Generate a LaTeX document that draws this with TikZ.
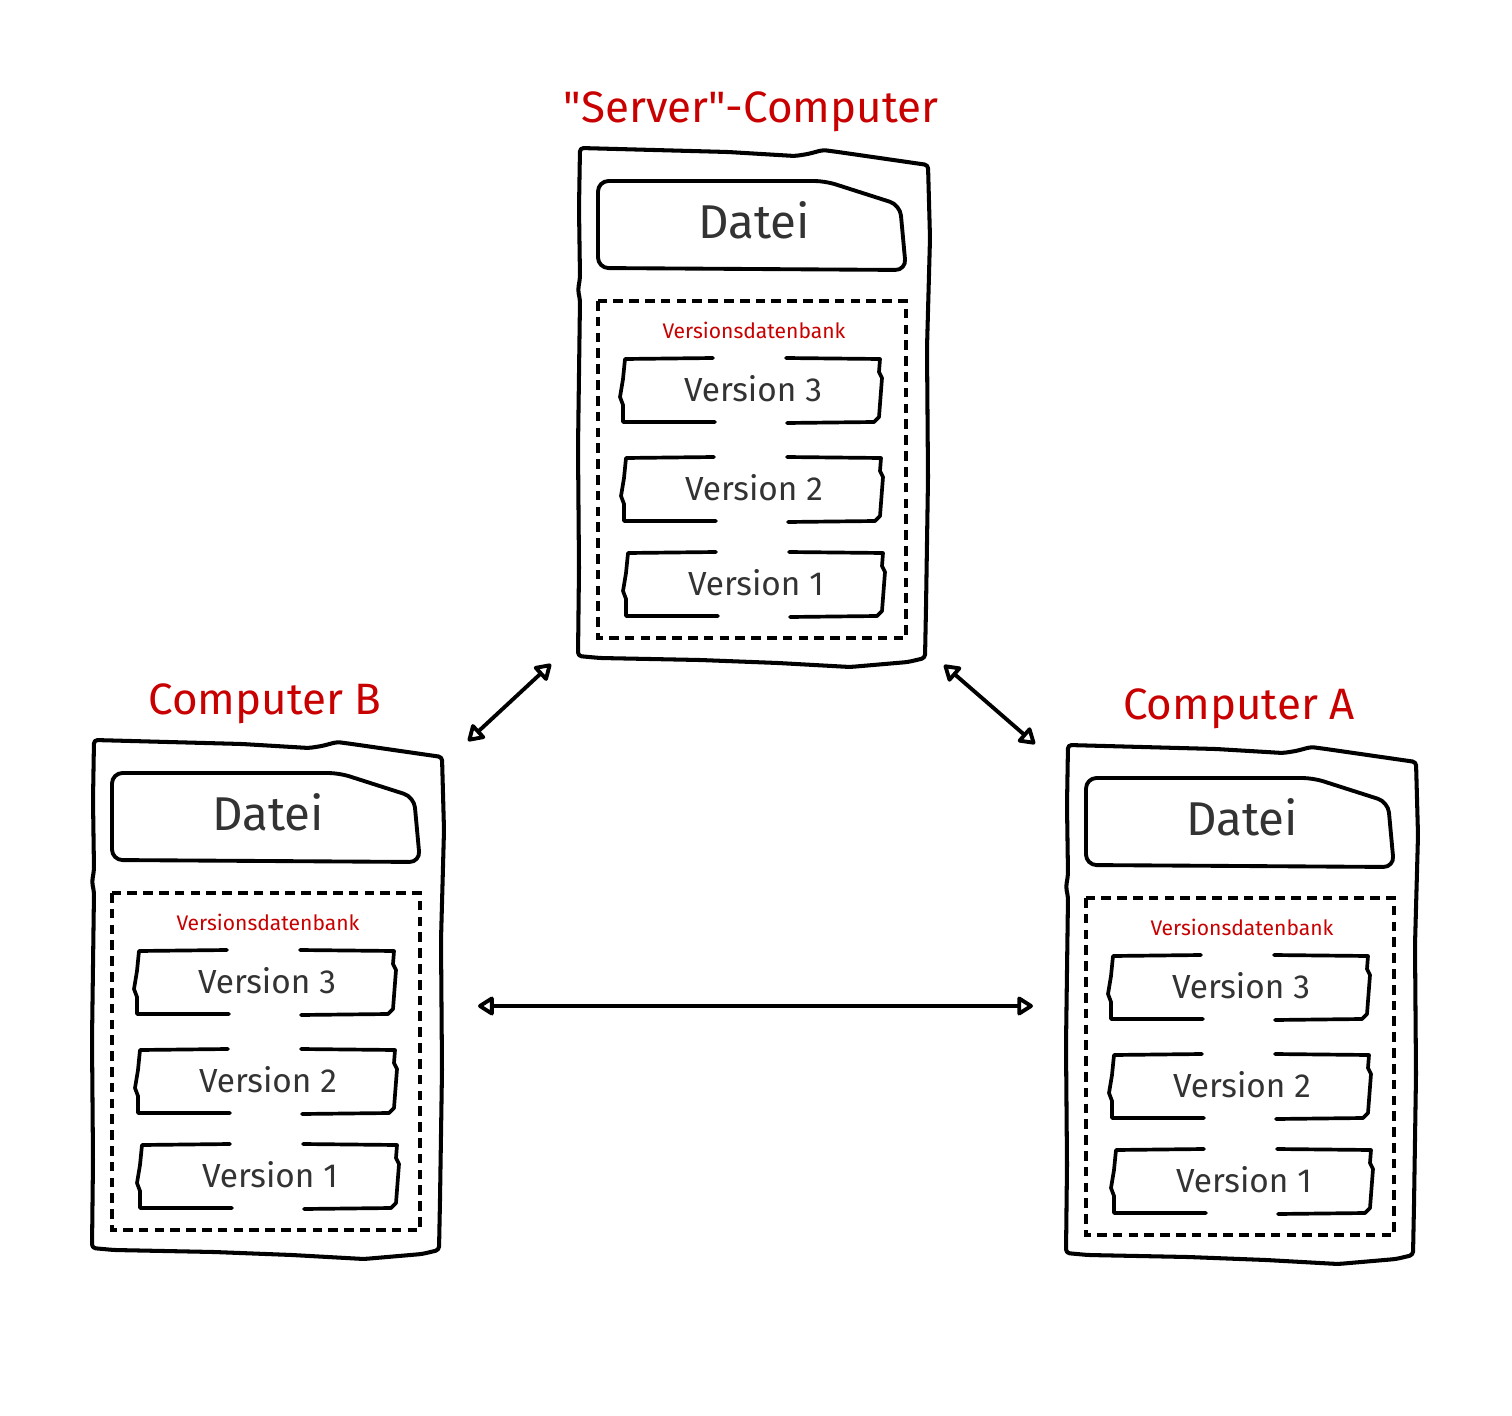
\documentclass[tikz,border=0pt]{standalone}
\usepackage{fontspec}
\setmainfont{Fira Sans}
\usetikzlibrary{arrows.meta}

\definecolor{titelrot}{RGB}{200,0,0}
\definecolor{schrift}{RGB}{51,51,51}

\tikzset{
  rand/.style={line width=2.3pt, line join=round, line cap=round, rounded corners=2pt},
  datei/.style={line width=2.2pt, line join=round, line cap=round, rounded corners=6pt},
  kasten/.style={line width=2.1pt, line join=round, line cap=round},
  strich/.style={line width=2.1pt, dash pattern=on 5.5pt off 3.5pt},
  titel/.style={text=titelrot, font=\fontsize{25}{30}\selectfont},
  dbtitel/.style={text=titelrot, font=\fontsize{12}{14}\selectfont},
  dateitext/.style={text=schrift, font=\fontsize{27}{30}\selectfont},
  versiontext/.style={text=schrift, font=\fontsize{19}{22}\selectfont},
  spitze/.style={Triangle[open,length=10pt,width=12pt,line width=2.2pt,round]},
  link/.style={line width=2.2pt, {Triangle[open,length=10pt,width=12pt,line width=2.2pt,round]}-{Triangle[open,length=10pt,width=12pt,line width=2.2pt,round]}},
}

% one version entry, #1 name, #2 top left, #3 text
\newcommand{\versionbox}[3]{%
  \begin{scope}[shift={#2}]
    \draw[kasten] (90,-1) -- (2,0) -- (0,20) -- (-3,38) -- (0,46) -- (0,63) -- (92,63);
    \draw[kasten] (163,-1) -- (257,0) -- (256,13) -- (259,19) -- (256,58) -- (251,63) -- (164,64);
    \node[versiontext] (#1) at (130,30) {#3};
  \end{scope}}

% one computer, #1 name, #2 top left, #3 title
\newcommand{\rechner}[3]{%
  \begin{scope}[shift={#2}]
    \node[titel] (#1-titel) at (173,-36) {#3};
    \draw[rand] (2,0) -- (150,4) -- (217,8) -- (230,6) -- (245,2) -- (260,4) -- (350,17)
      -- (352,90) -- (349,200) -- (350,330) -- (348,460) -- (347,510) -- (330,514)
      -- (272,519) -- (200,515) -- (122,512) -- (22,510) -- (0,508) -- (1,420)
      -- (0,300) -- (2,152) -- (0,142) -- (2,130) -- (1,60) -- cycle;
    \draw[datei] (20,120) -- (20,33) -- (247,33) -- (322,57) -- (328,122) -- cycle;
    \node[dateitext] (#1-datei) at (176,72) {Datei};
    \draw[strich] (20,153) rectangle (328,490);
    \node[dbtitel] (#1-db) at (176,182) {Versionsdatenbank};
    \versionbox{#1-v3}{(45,211)}{Version 3}
    \versionbox{#1-v2}{(46,310)}{Version 2}
    \versionbox{#1-v1}{(48,405)}{Version 1}
    % arrow ends
    \coordinate (#1-nw) at (-31,-1);
    \coordinate (#1-ne) at (376,1);
    \coordinate (#1-sw) at (-27,516);
    \coordinate (#1-se) at (366,517);
    \coordinate (#1-w) at (-33,262);
    \coordinate (#1-e) at (386,266);
  \end{scope}}

\begin{document}
\begin{tikzpicture}[x=0.02cm, y=-0.02cm]
  \useasboundingbox (0,0) rectangle (1512,1416);

  \rechner{srv}{(578,148)}{\textquotedbl Server\textquotedbl-Computer}
  \rechner{cb}{(92,740)}{Computer B}
  \rechner{ca}{(1066,745)}{Computer A}

  \draw[link] (cb-ne) -- (srv-sw);
  \draw[link] (srv-se) -- (ca-nw);
  \draw[link] (cb-e) -- (cb-e -| ca-w);
\end{tikzpicture}
\end{document}
